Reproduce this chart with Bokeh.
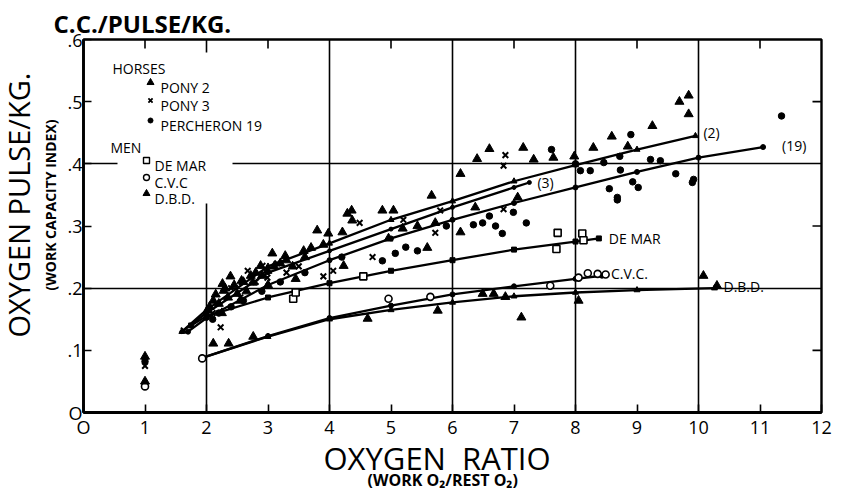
from bokeh.plotting import figure
from bokeh.models import FixedTicker, ColumnDataSource, Range1d, Title
from bokeh.embed import file_html
from bokeh.resources import INLINE
from bokeh.core.properties import value

# ---------------- data ----------------
x_ticks = [0, 1, 2, 3, 4, 5, 6, 7, 8, 9, 10, 11, 12]
x_tick_labels = ["O", "1", "2", "3", "4", "5", "6", "7", "8", "9", "10", "11", "12"]
y_ticks = [0, 0.1, 0.2, 0.3, 0.4, 0.5, 0.6]
y_tick_labels = ["O", ".1", ".2", ".3", ".4", ".5", ".6"]
top_ticks = [1, 3, 5, 7, 9, 11]
right_ticks = [0.1, 0.3, 0.5]

# Pony 2 (filled triangles)
pony2_x = [1.0, 2.02, 2.11, 2.26, 2.28, 2.39, 2.5, 2.57, 2.72, 2.75, 2.88, 2.99, 3.07,
           3.2, 3.28, 3.58, 3.8, 3.98, 4.21, 4.23, 4.29, 4.36, 4.37, 4.86, 4.96, 5.04,
           5.19, 5.43, 5.59, 5.66, 5.72, 6.13, 6.13, 6.37, 6.4, 6.6, 7.06, 7.15, 7.32,
           7.64, 7.98, 8.29, 8.59, 8.85, 9.25, 9.69, 9.84, 9.84, 2.05, 2.15, 2.2, 2.3,
           2.35, 2.45, 2.6, 2.65, 2.8, 2.9, 3.1, 3.3, 3.4, 3.6, 3.7, 3.9, 2.25, 2.55,
           3.0, 3.45]
pony2_y = [0.09, 0.164, 0.18, 0.207, 0.196, 0.219, 0.191, 0.212, 0.22, 0.209, 0.236, 0.228, 0.256,
           0.24, 0.252, 0.26, 0.293, 0.288, 0.29, 0.236, 0.32, 0.325, 0.309, 0.325, 0.28, 0.325,
           0.296, 0.3, 0.265, 0.349, 0.305, 0.384, 0.29, 0.33, 0.408, 0.424, 0.346, 0.426, 0.407,
           0.41, 0.412, 0.426, 0.444, 0.428, 0.461, 0.5, 0.51, 0.48, 0.17, 0.19, 0.175, 0.2,
           0.185, 0.205, 0.21, 0.195, 0.225, 0.22, 0.235, 0.245, 0.235, 0.25, 0.265, 0.27, 0.16,
           0.18, 0.205, 0.215]
pony2_fit_x = [1.6, 2.0, 3.0, 4.0, 5.0, 6.0, 7.0, 8.0, 9.0, 9.95]
pony2_fit_y = [0.13, 0.165, 0.235, 0.272, 0.31, 0.34, 0.372, 0.398, 0.423, 0.445]

# Pony 3 (x)
pony3_x = [1.0, 1.63, 2.23, 2.55, 2.67, 2.91, 2.99, 3.15, 3.9, 4.06, 4.49, 4.7, 5.72, 5.8,
           6.83, 6.86, 6.83, 2.4, 2.1, 3.5, 2.8, 3.3, 5.2]
pony3_y = [0.075, 0.132, 0.137, 0.185, 0.228, 0.236, 0.217, 0.24, 0.219, 0.228, 0.305, 0.25,
           0.289, 0.325, 0.397, 0.414, 0.327, 0.2, 0.16, 0.235, 0.21, 0.225, 0.31]
pony3_fit_x = [1.6, 2.0, 3.0, 4.0, 5.0, 6.0, 7.0, 7.25]
pony3_fit_y = [0.13, 0.16, 0.225, 0.26, 0.295, 0.33, 0.362, 0.37]

# Percheron 19 (dots)
perch_x = [1.0, 4.86, 5.07, 5.24, 5.43, 6.34, 6.49, 6.6, 6.7, 6.81, 6.99, 7.2, 7.61, 8.0,
           8.08, 8.24, 8.46, 8.55, 8.68, 8.68, 8.72, 8.73, 8.9, 8.93, 9.02, 9.22, 9.38, 9.63,
           9.9, 9.92, 11.35, 2.1, 2.2, 2.4, 2.6, 2.9, 3.2, 3.6, 4.2, 5.9]
perch_y = [0.082, 0.244, 0.256, 0.266, 0.26, 0.302, 0.305, 0.316, 0.3, 0.288, 0.322, 0.305,
           0.423, 0.4, 0.389, 0.389, 0.402, 0.36, 0.346, 0.342, 0.412, 0.39, 0.447, 0.371,
           0.362, 0.407, 0.405, 0.384, 0.37, 0.375, 0.477, 0.15, 0.16, 0.17, 0.18, 0.195,
           0.21, 0.225, 0.25, 0.3]
perch_fit_x = [1.7, 2.0, 3.0, 4.0, 5.0, 6.0, 7.0, 8.0, 9.0, 10.0, 11.05]
perch_fit_y = [0.13, 0.152, 0.205, 0.245, 0.28, 0.31, 0.337, 0.362, 0.387, 0.41, 0.427]

# Men: De Mar (open squares)
demar_x = [3.41, 3.45, 4.55, 7.69, 7.71, 8.11, 8.13]
demar_y = [0.183, 0.193, 0.219, 0.263, 0.289, 0.288, 0.277]
demar_fit_x = [1.75, 2.0, 3.0, 4.0, 5.0, 6.0, 7.0, 8.0, 8.38]
demar_fit_y = [0.14, 0.155, 0.185, 0.208, 0.228, 0.245, 0.262, 0.275, 0.28]

# Men: C.V.C (open circles)
cvc_x = [1.0, 1.93, 4.96, 5.64, 7.59, 8.05, 8.2, 8.36, 8.49]
cvc_y = [0.042, 0.087, 0.183, 0.186, 0.204, 0.217, 0.224, 0.223, 0.222]
cvc_fit_x = [1.93, 3.0, 4.0, 5.0, 6.0, 7.0, 8.0, 8.43]
cvc_fit_y = [0.088, 0.123, 0.152, 0.172, 0.19, 0.203, 0.215, 0.22]

# Men: D.B.D. (filled triangles)
dbd_x = [1.0, 2.11, 2.36, 2.76, 4.62, 5.76, 6.49, 6.67, 6.86, 7.12, 8.05, 10.08, 10.3]
dbd_y = [0.05, 0.111, 0.111, 0.122, 0.151, 0.164, 0.191, 0.191, 0.186, 0.153, 0.18, 0.22, 0.204]
dbd_fit_x = [1.93, 3.0, 4.0, 5.0, 6.0, 7.0, 8.0, 9.0, 10.26]
dbd_fit_y = [0.088, 0.122, 0.15, 0.165, 0.177, 0.187, 0.193, 0.197, 0.2]

curve_labels = ["(2)", "(3)", "(19)", "DE MAR", "C.V.C.", "D.B.D."]
legend_groups = ["HORSES", "MEN"]
legend_labels = ["PONY 2", "PONY 3", "PERCHERON 19", "DE MAR", "C.V.C", "D.B.D."]

# ---------------- layout ----------------
W, H = 841, 496
FL, FR, FT, FB = 83, 821, 39, 412
XMAX, YMAX = 12.0, 0.6
FONT = "Open Sans"


def dx(px):
    return (px - FL) / (FR - FL) * XMAX


def dy(py):
    return (FB - py) / (FB - FT) * YMAX


p = figure(width=W, height=H, x_range=Range1d(0, XMAX), y_range=Range1d(0, YMAX),
           output_backend="svg", toolbar_location=None,
           min_border_left=FL, min_border_right=W - FR, min_border_top=FT,
           min_border_bottom=H - FB)
p.outline_line_color = "black"
p.outline_line_width = 2.4
p.background_fill_color = "white"
p.border_fill_color = "white"

xa = p.xaxis[0]
xa.ticker = FixedTicker(ticks=x_ticks, minor_ticks=[])
xa.major_label_overrides = {t: s for t, s in zip(x_ticks, x_tick_labels)}
ya = p.yaxis[0]
ya.ticker = FixedTicker(ticks=y_ticks, minor_ticks=[])
ya.major_label_overrides = {t: s for t, s in zip(y_ticks, y_tick_labels)}
for ax, st in ((xa, 2), (ya, 1)):
    ax.axis_line_width = 2.8
    ax.axis_line_color = "black"
    ax.major_tick_in = 8
    ax.major_tick_out = 0
    ax.major_tick_line_width = 1.6
    ax.major_tick_line_color = "black"
    ax.major_label_text_font = FONT
    ax.major_label_text_font_size = "18px"
    ax.major_label_text_color = "black"
    ax.major_label_standoff = st

p.xgrid.ticker = FixedTicker(ticks=[2, 4, 6, 8, 10])
p.ygrid.ticker = FixedTicker(ticks=[0.2, 0.4])
for g in (p.xgrid, p.ygrid):
    g.grid_line_color = "black"
    g.grid_line_width = 1.6
    g.grid_line_alpha = 1.0

# inward ticks on the top and right frame edges
tick_dx = 9 / (FR - FL) * XMAX
tick_dy = 9 / (FB - FT) * YMAX
p.segment(x0=top_ticks, y0=[YMAX] * len(top_ticks), x1=top_ticks,
          y1=[YMAX - tick_dy] * len(top_ticks), line_color="black", line_width=1.6)
p.segment(x0=[XMAX] * len(right_ticks), y0=right_ticks, x1=[XMAX - tick_dx] * len(right_ticks),
          y1=right_ticks, line_color="black", line_width=1.6)

# white patch behind the legend (hides the grid lines there)
p.quad(left=[dx(117)], right=[dx(232)], top=[dy(52)], bottom=[dy(203)],
       fill_color="white", line_color=None)

# ---------------- curves ----------------
fits = [
    (pony2_fit_x, pony2_fit_y, "triangle", 6),
    (pony3_fit_x, pony3_fit_y, "circle", 4),
    (perch_fit_x, perch_fit_y, "circle", 5),
    (demar_fit_x, demar_fit_y, "square", 5),
    (cvc_fit_x, cvc_fit_y, "circle", 5),
    (dbd_fit_x, dbd_fit_y, "triangle", 6),
]
for fx, fy, mk, sz in fits:
    p.line(fx, fy, line_color="black", line_width=2.3)
    p.scatter(fx, fy, marker=mk, size=sz, fill_color="black", line_color="black")

# ---------------- scattered points ----------------
p.scatter(pony2_x, pony2_y, marker="triangle", size=9, fill_color="black", line_color="black")
p.scatter(pony3_x, pony3_y, marker="x", size=8, line_color="black", line_width=2)
p.scatter(perch_x, perch_y, marker="circle", size=6.5, fill_color="black", line_color="black")
p.scatter(demar_x, demar_y, marker="square", size=7, fill_color="white", line_color="black",
          line_width=1.6)
p.scatter(cvc_x, cvc_y, marker="circle", size=7, fill_color="white", line_color="black",
          line_width=1.6)
p.scatter(dbd_x, dbd_y, marker="triangle", size=9, fill_color="black", line_color="black")

# curve end labels
ends = [(f[0][-1], f[1][-1]) for f in fits]
lab_src = ColumnDataSource(dict(
    x=[e[0] for e in ends], y=[e[1] for e in ends], t=curve_labels,
    xo=[8, 8, 19, 10, 9, 9], yo=[-3, 0, -2, 0, -2, -2]))
p.text(x="x", y="y", text="t", x_offset="xo", y_offset="yo", source=lab_src,
       text_font=value(FONT), text_font_size="14px", text_color="black",
       text_baseline="middle", text_align="left")

# ---------------- legend ----------------
grp_src = ColumnDataSource(dict(x=[dx(112), dx(110)], y=[dy(68), dy(147)], t=legend_groups))
p.text(x="x", y="y", text="t", source=grp_src, text_font=value(FONT),
       text_font_size="14px", text_color="black", text_baseline="alphabetic")
row_base = [87, 105, 125, 165, 182, 198]
mark_px = [150, 150, 150, 146, 146, 146]
text_px = [160, 160, 160, 154, 154, 154]
leg_src = ColumnDataSource(dict(x=[dx(v) for v in text_px], y=[dy(b) for b in row_base],
                                t=legend_labels))
p.text(x="x", y="y", text="t", source=leg_src, text_font=value(FONT),
       text_font_size="14px", text_color="black", text_baseline="alphabetic")
mk_y = [dy(b - 5) for b in row_base]
mk_x = [dx(v) for v in mark_px]
p.scatter([mk_x[0]], [mk_y[0]], marker="triangle", size=7, fill_color="black", line_color="black")
p.scatter([mk_x[1]], [mk_y[1]], marker="x", size=6, line_color="black", line_width=1.8)
p.scatter([mk_x[2]], [mk_y[2]], marker="circle", size=5, fill_color="black", line_color="black")
p.scatter([mk_x[3]], [mk_y[3]], marker="square", size=6, fill_color="white", line_color="black", line_width=1.4)
p.scatter([mk_x[4]], [mk_y[4]], marker="circle", size=6, fill_color="white", line_color="black", line_width=1.4)
p.scatter([mk_x[5]], [mk_y[5]], marker="triangle", size=7, fill_color="black", line_color="black")

# ---------------- titles (side panels) ----------------
p.add_layout(Title(text="C.C./PULSE/KG.", align="left", offset=-30, standoff=-1,
                   text_font=FONT, text_font_size="24px", text_font_style="bold",
                   text_color="black"), "above")
p.add_layout(Title(text="(WORK CAPACITY INDEX)", align="left", offset=122, standoff=10,
                   text_font=FONT, text_font_size="14px", text_font_style="bold",
                   text_color="black"), "left")
p.add_layout(Title(text="OXYGEN PULSE/KG.", align="left", offset=75, standoff=-8,
                   text_font=FONT, text_font_size="29px", text_font_style="normal",
                   text_color="black"), "left")
p.add_layout(Title(text="OXYGEN\u00a0\u00a0RATIO", align="left", offset=240, standoff=-14,
                   text_font=FONT, text_font_size="31px", text_font_style="normal",
                   text_color="black"), "below")
p.add_layout(Title(text="(WORK O\u2082/REST O\u2082)", align="left", offset=284, standoff=-10,
                   text_font=FONT, text_font_size="16px", text_font_style="bold",
                   text_color="black"), "below")

open("out.html", "w").write(file_html(p, INLINE))
